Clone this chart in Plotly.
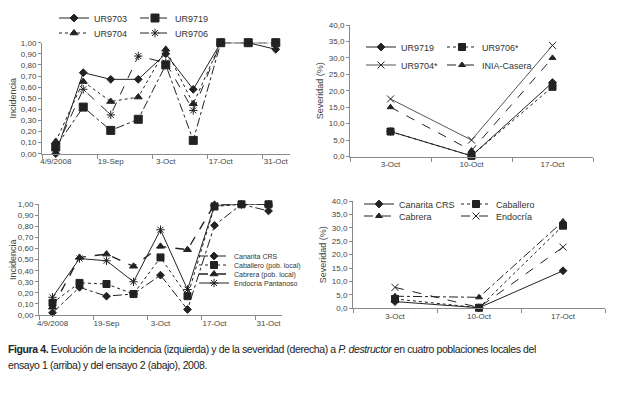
import plotly.graph_objects as go

# ---------------- data ----------------
dates_left = ["4/9/2008", "12-Sep", "19-Sep", "26-Sep", "3-Oct", "10-Oct", "17-Oct", "24-Oct", "31-Oct"]
dates_right = ["3-Oct", "10-Oct", "17-Oct"]

# Ensayo 1 - incidencia
ur9703_inc = [0.00, 0.73, 0.67, 0.67, 0.90, 0.58, 1.00, 1.00, 0.94]
ur9719_inc = [0.06, 0.42, 0.21, 0.31, 0.80, 0.12, 1.00, 1.00, 1.00]
ur9704_inc = [0.11, 0.65, 0.47, 0.51, 0.94, 0.45, 1.00, 1.00, 1.00]
ur9706_inc = [0.04, 0.58, 0.35, 0.88, 0.82, 0.39, 1.00, 1.00, 1.00]

# Ensayo 1 - severidad
ur9719_sev = [7.6, 0.2, 22.5]
ur9706_sev = [7.6, 0.2, 21.2]
ur9704_sev = [17.5, 5.0, 33.8]
inia_sev = [15.0, 1.8, 30.0]

# Ensayo 2 - incidencia
canarita_inc = [0.02, 0.25, 0.17, 0.19, 0.36, 0.05, 0.81, 1.00, 0.94]
caballero_inc = [0.11, 0.29, 0.28, 0.19, 0.52, 0.17, 0.98, 1.00, 1.00]
cabrera_inc = [0.07, 0.52, 0.55, 0.44, 0.62, 0.59, 1.00, 1.00, 1.00]
endocria_inc = [0.16, 0.51, 0.49, 0.30, 0.77, 0.23, 0.99, 1.00, 1.00]

# Ensayo 2 - severidad
canarita_sev = [2.5, 0.2, 14.0]
caballero_sev = [3.5, 0.2, 30.8]
cabrera_sev = [4.5, 4.1, 32.4]
endocria_sev = [7.8, 0.3, 22.8]

inc_ticks = [0.0, 0.1, 0.2, 0.3, 0.4, 0.5, 0.6, 0.7, 0.8, 0.9, 1.0]
sev_ticks = [0, 5, 10, 15, 20, 25, 30, 35, 40]

caption_1 = ("<b>Figura 4.</b> Evolución de la incidencia (izquierda) y de la severidad (derecha) a "
             "<i>P. destructor</i> en cuatro poblaciones locales del")
caption_2 = "ensayo 1 (arriba) y del ensayo 2 (abajo), 2008."

# ---------------- style ----------------
OFF = 8               # page body margin of the browser
W, H = 610, 391       # figure size so that it fits the 618x399 window
FONT = "Liberation Sans, Arial, sans-serif"
INK = "#222222"
AXC = "#8a8a8a"
TICKC = "#444444"

fig = go.Figure()


def px(x):
    return (x - OFF) / W


def py(y):
    return 1 - (y - OFF) / H


leg_count = [0]
legends = {}


def add(xs, ys, name, ax, dash, symbol, msize, legpos, lw=1.0, color=INK, mlw=1.0):
    leg_count[0] += 1
    n = leg_count[0]
    lname = "legend" if n == 1 else f"legend{n}"
    xa = "x" if ax == 1 else f"x{ax}"
    ya = "y" if ax == 1 else f"y{ax}"
    fig.add_trace(go.Scatter(
        x=xs, y=ys, name=name, xaxis=xa, yaxis=ya, mode="lines+markers",
        line=dict(color=color, width=lw, dash=dash),
        marker=dict(symbol=symbol, size=msize, color=INK, line=dict(color=INK, width=mlw)),
        cliponaxis=False, legend=lname, showlegend=True,
    ))
    legends[lname] = dict(
        x=px(legpos[0]), y=py(legpos[1]), xanchor="left", yanchor="middle",
        bgcolor="rgba(0,0,0,0)", borderwidth=0,
        font=dict(family=FONT, size=legpos[2], color="#333"),
        itemwidth=30, tracegroupgap=0, orientation="v",
    )


xl = list(range(len(dates_left)))
xr = list(range(len(dates_right)))

# Top-left
add(xl, ur9703_inc, "UR9703", 1, "solid", "diamond", 6, (54, 18, 9))
add(xl, ur9719_inc, "UR9719", 1, "dashdot", "square", 8, (135, 18, 9))
add(xl, ur9704_inc, "UR9704", 1, "dot", "triangle-up", 7, (54, 33, 9))
add(xl, ur9706_inc, "UR9706", 1, "dash", "asterisk-open", 7, (135, 33, 9))

# Top-right
add(xr, ur9719_sev, "UR9719", 2, "solid", "diamond", 6, (361, 47, 9))
add(xr, ur9706_sev, "UR9706*", 2, "dot", "square", 7, (442, 47, 9))
add(xr, ur9704_sev, "UR9704*", 2, "solid", "x-thin-open", 7, (361, 65, 9), color="#555555")
add(xr, inia_sev, "INIA-Casera", 2, "dash", "triangle-up", 6, (442, 65, 9))

# Bottom-left
add(xl, canarita_inc, "Canarita CRS", 3, "dashdot", "diamond", 6, (194, 256, 7))
add(xl, caballero_inc, "Caballero (pob. local)", 3, "dot", "square", 7, (194, 265, 7))
add(xl, cabrera_inc, "Cabrera (pob. local)", 3, "dash", "triangle-up", 7, (194, 274, 7), lw=1.4)
add(xl, endocria_inc, "Endocría Pantanoso", 3, "solid", "asterisk-open", 7, (194, 283, 7))

# Bottom-right
add(xr, canarita_sev, "Canarita CRS", 4, "solid", "diamond", 6, (359, 204, 9))
add(xr, caballero_sev, "Caballero", 4, "dot", "square", 7, (456, 204, 9))
add(xr, cabrera_sev, "Cabrera", 4, "dashdot", "triangle-up", 6, (359, 216, 9))
add(xr, endocria_sev, "Endocría", 4, "dash", "x-thin-open", 7, (456, 216, 9))


def fmt_inc(v):
    return f"{v:.2f}".replace(".", ",")


def fmt_sev(v):
    return f"{v:.1f}".replace(".", ",")


tickfont = dict(family=FONT, size=8, color=TICKC)
titlefont = dict(family=FONT, size=9, color="#444")


def xaxis_cfg(dom, labels, step):
    idx = list(range(0, len(labels), step))
    return dict(
        domain=dom, range=[-0.5, len(labels) - 0.5], showgrid=False, zeroline=False,
        showline=True, linecolor=AXC, linewidth=1,
        tickmode="array", tickvals=idx, ticktext=[labels[i] for i in idx], ticks="",
        tickfont=tickfont,
        minor=dict(tick0=-0.5, dtick=step, ticks="outside", ticklen=4, tickcolor=AXC, tickwidth=1),
    )


def yaxis_cfg(dom, anchor, vals, fmt, rng, title):
    return dict(
        domain=dom, anchor=anchor, range=rng, showgrid=False, zeroline=False,
        showline=True, linecolor=AXC, linewidth=1, ticks="outside", ticklen=3, tickcolor=AXC,
        tickmode="array", tickvals=vals, ticktext=[fmt(v) for v in vals], tickfont=tickfont,
        title=dict(text=title, font=titlefont, standoff=3),
    )


fig.update_layout(
    width=W, height=H, margin=dict(l=0, r=0, t=0, b=0, autoexpand=False),
    paper_bgcolor="white", plot_bgcolor="white",
    font=dict(family=FONT, color="#333"),
    xaxis=dict(**xaxis_cfg([px(42), px(289.5)], dates_left, 2), anchor="y"),
    yaxis=yaxis_cfg([py(153.7), py(42.7)], "x", inc_ticks, fmt_inc, [0, 1.0], "Incidencia"),
    xaxis2=dict(**xaxis_cfg([px(350), px(593)], dates_right, 1), anchor="y2"),
    yaxis2=yaxis_cfg([py(156.5), py(25)], "x2", sev_ticks, fmt_sev, [0, 40], "Severidad (%)"),
    xaxis3=dict(**xaxis_cfg([px(39), px(282)], dates_left, 2), anchor="y3"),
    yaxis3=yaxis_cfg([py(315), py(204.3)], "x3", inc_ticks, fmt_inc, [0, 1.0], "Incidencia"),
    xaxis4=dict(**xaxis_cfg([px(353), px(605)], dates_right, 1), anchor="y4"),
    yaxis4=yaxis_cfg([py(308.3), py(201)], "x4", sev_ticks, fmt_sev, [0, 40], "Severidad (%)"),
    **legends,
)

cap_style = "letter-spacing:-0.4px"
for txt, yc in ((caption_1, 349), (caption_2, 365)):
    fig.add_annotation(
        xref="paper", yref="paper", x=px(6), y=py(yc), xanchor="left", yanchor="middle",
        align="left", showarrow=False,
        text=f'<span style="{cap_style}">{txt}</span>',
        font=dict(family=FONT, size=10.5, color="#222"),
    )

fig.write_html("out.html")
